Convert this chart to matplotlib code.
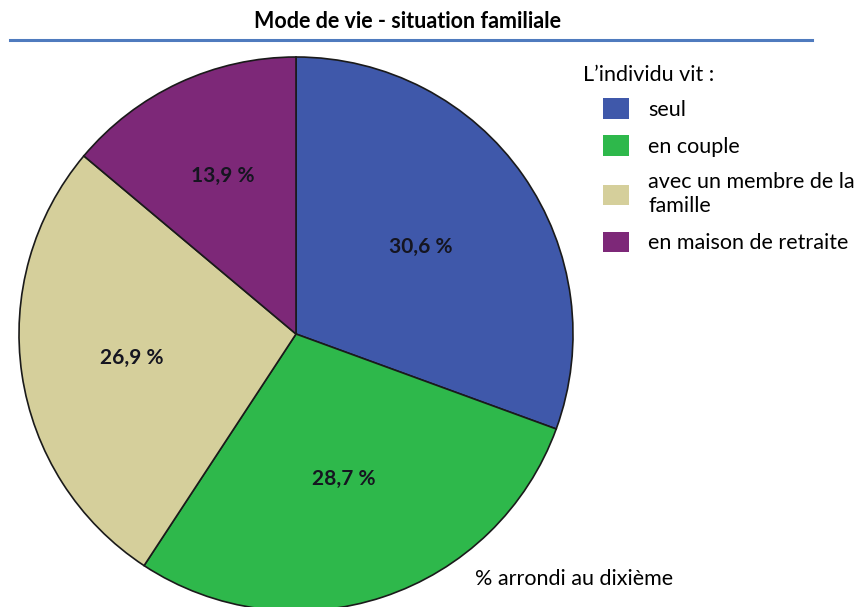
import numpy as np
import matplotlib.pyplot as plt
from matplotlib.lines import Line2D
from matplotlib.patches import Patch

plt.rcParams['font.family'] = ['Lato', 'DejaVu Sans']

categories = ['seul', 'en couple', 'avec un membre de la\nfamille', 'en maison de retraite']
values = [30.6, 28.7, 26.9, 13.9]
pct_labels = ['30,6 %', '28,7 %', '26,9 %', '13,9 %']
colors = ['#3F58AA', '#2EB84B', '#D5CF9B', '#7D2878']
label_radius = [0.55, 0.55, 0.6, 0.63]

fig = plt.figure(figsize=(8.58, 6.07), dpi=100)

# pie axes: centre ~ (296, 334) px, radius ~277 px
W, H = 858, 607
cx, cy, r = 296, 334, 277
ax = fig.add_axes([(cx - r) / W, (H - cy - r) / H, 2 * r / W, 2 * r / H])
wedges, _ = ax.pie(values, colors=colors, startangle=90, counterclock=False,
                   wedgeprops=dict(edgecolor='#1a1a1a', linewidth=1.2))
for w, lab, rad in zip(wedges, pct_labels, label_radius):
    mid = np.deg2rad((w.theta1 + w.theta2) / 2)
    ax.text(rad * np.cos(mid), rad * np.sin(mid), lab, ha='center', va='center',
            fontsize=15, fontweight='bold', color='#151520')
ax.set_xlim(-1, 1)
ax.set_ylim(-1, 1)
ax.set_aspect('auto')
ax.axis('off')

# title and rule
fig.text(408 / W, 1 - 21 / H, 'Mode de vie - situation familiale',
         ha='center', va='center', fontsize=15.5, fontweight='bold')
fig.add_artist(Line2D([10 / W, 812 / W], [1 - 40 / H, 1 - 40 / H],
                      color='#4F7BBE', linewidth=2.2, transform=fig.transFigure))

# legend
fig.text(583 / W, 1 - 75 / H, 'L\u2019individu vit :', ha='left', va='center', fontsize=15.5)
handles = [Patch(facecolor=c, edgecolor='none') for c in colors]
leg = fig.legend(handles, categories, loc='upper left', bbox_to_anchor=(603 / W, 1 - 98 / H),
                 frameon=False, fontsize=15.5, handlelength=1.2, handleheight=1.1,
                 handletextpad=0.9, labelspacing=0.72, borderpad=0, borderaxespad=0)
for t in leg.get_texts():
    t.set_linespacing(1.25)

fig.text(475 / W, 1 - 579 / H, '% arrondi au dixième', ha='left', va='center', fontsize=15.5)

fig.savefig('out.png', dpi=100)
